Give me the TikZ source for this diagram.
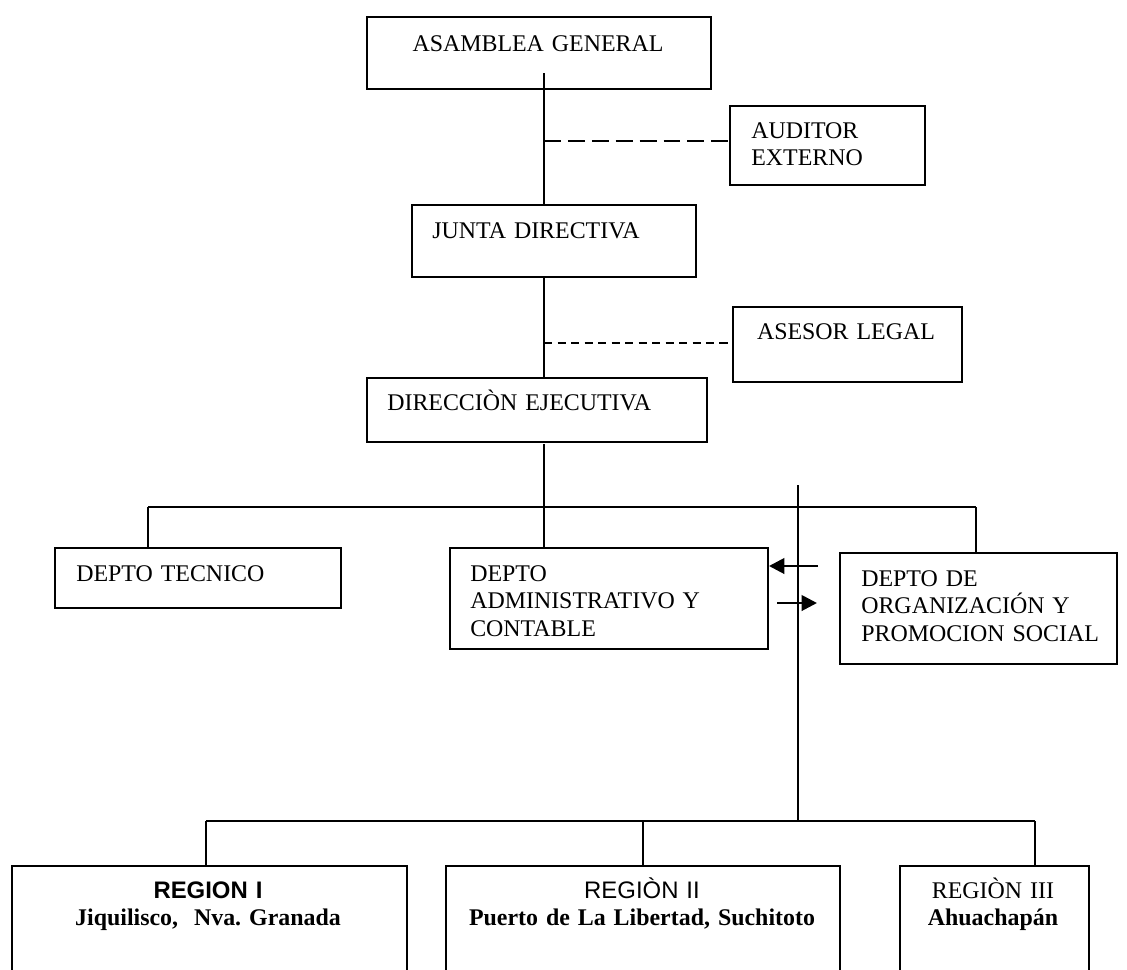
\documentclass[tikz,border=0pt]{standalone}
\usepackage{fontspec}
\setmainfont{Liberation Serif}
\setsansfont{Liberation Sans}
\usetikzlibrary{arrows.meta}

\begin{document}
\begin{tikzpicture}
[x=0.025cm,y=-0.025cm,>={Triangle[length=11pt,width=11pt]},
box/.style={draw,line width=1.4pt,anchor=north west,inner sep=0pt},
txt/.style={anchor=base west,inner sep=0pt,text width=9cm,align=left,font=\fontsize{17}{19.6}\selectfont},
ctxt/.style={anchor=base,inner sep=0pt,text width=12cm,align=center,font=\fontsize{17}{19.6}\selectfont},
link/.style={line width=1.4pt},
dashlong/.style={line width=1.4pt,dash pattern=on 12pt off 5pt},
dashshort/.style={line width=1.4pt,dash pattern=on 6pt off 3.6pt},]
\def\pxl{0.025cm}
\useasboundingbox (0,0) rectangle (1127,969);
\clip (0,0) rectangle (1127,969);

% boxes
\node (asamblea) at (366,16)[box,minimum width=344*\pxl,minimum height=72*\pxl]{};
\node (auditor) at (729,105)[box,minimum width=195*\pxl,minimum height=79*\pxl]{};
\node (junta) at (411,204)[box,minimum width=284*\pxl,minimum height=72*\pxl]{};
\node (asesor) at (732,306)[box,minimum width=229*\pxl,minimum height=75*\pxl]{};
\node (direccion) at (366,377)[box,minimum width=340*\pxl,minimum height=64*\pxl]{};
\node (tecnico) at (54,547)[box,minimum width=286*\pxl,minimum height=60*\pxl]{};
\node (admin) at (449,547)[box,minimum width=318*\pxl,minimum height=101*\pxl]{};
\node (org) at (839,552)[box,minimum width=277*\pxl,minimum height=111*\pxl]{};
\node (region1) at (11,865)[box,minimum width=395*\pxl,minimum height=140*\pxl]{};
\node (region2) at (445,865)[box,minimum width=394*\pxl,minimum height=140*\pxl]{};
\node (region3) at (899,865)[box,minimum width=189*\pxl,minimum height=140*\pxl]{};

% texts
\node (asamblea-t) at (538,51)[ctxt]{ASAMBLEA GENERAL};
\node (auditor-t) at (751,138)[txt]{AUDITOR\\EXTERNO};
\node (junta-t) at (432,238)[txt]{JUNTA DIRECTIVA};
\node (asesor-t) at (846,339)[ctxt]{ASESOR LEGAL};
\node (direccion-t) at (387,410)[txt]{DIRECCIÒN EJECUTIVA};
\node (tecnico-t) at (76,581)[txt]{DEPTO TECNICO};
\node (admin-t) at (470,581)[txt]{DEPTO\\ADMINISTRATIVO Y\\CONTABLE};
\node (org-t) at (861,586)[txt]{DEPTO DE\\ORGANIZACIÓN Y\\PROMOCION SOCIAL};
\node (region1-t) at (208,898)[ctxt]{{\sffamily\bfseries REGION I}\\\textbf{Jiquilisco,~ Nva.\ Granada}};
\node (region2-t) at (642,898)[ctxt]{{\sffamily REGIÒN II}\\\textbf{Puerto de La Libertad, Suchitoto}};
\node (region3-t) at (993,898)[ctxt]{REGIÒN III\\\textbf{Ahuachapán}};

\coordinate (a1) at (544,73);
\coordinate (d1) at (544,141);
\coordinate (d2) at (544,343);
\coordinate (b1) at (544,444);
\coordinate (bus) at (544,507);
\coordinate (t1) at (148,507);
\coordinate (o1) at (976,507);
\coordinate (v1) at (798,485);
\coordinate (bus2) at (798,821);
\coordinate (g1) at (206,821);
\coordinate (g3) at (1035,821);
\coordinate (l1) at (818,566);
\coordinate (r1) at (777,603);
\coordinate (r2) at (817,603);

\draw[link] (a1) -- (a1 |- junta.north);
\draw[dashlong] (d1) -- (d1 -| auditor.west);
\draw[link] (a1 |- junta.south) -- (a1 |- direccion.north);
\draw[dashshort] (d2) -- (d2 -| asesor.west);
%\draw[link] (direccion) -- (bus);
\draw[link] (b1) -- (bus);
\draw[link] (t1) -- (o1);
\draw[link] (t1) -- (t1 |- tecnico.north);
\draw[link] (bus) -- (bus |- admin.north);
\draw[link] (o1) -- (o1 |- org.north);

\draw[link] (v1) -- (bus2);
\draw[link] (g1) -- (g3);
\draw[link] (g1) -- (g1 |- region1.north);
\draw[link] (bus2 -| region2.north) -- (region2.north);
\draw[link] (g3) -- (g3 |- region3.north);

\draw[line width=2pt,->] (l1) -- (l1 -| admin.east);
\draw[line width=2pt,->] (r1) -- (r2);

\end{tikzpicture}
\end{document}
